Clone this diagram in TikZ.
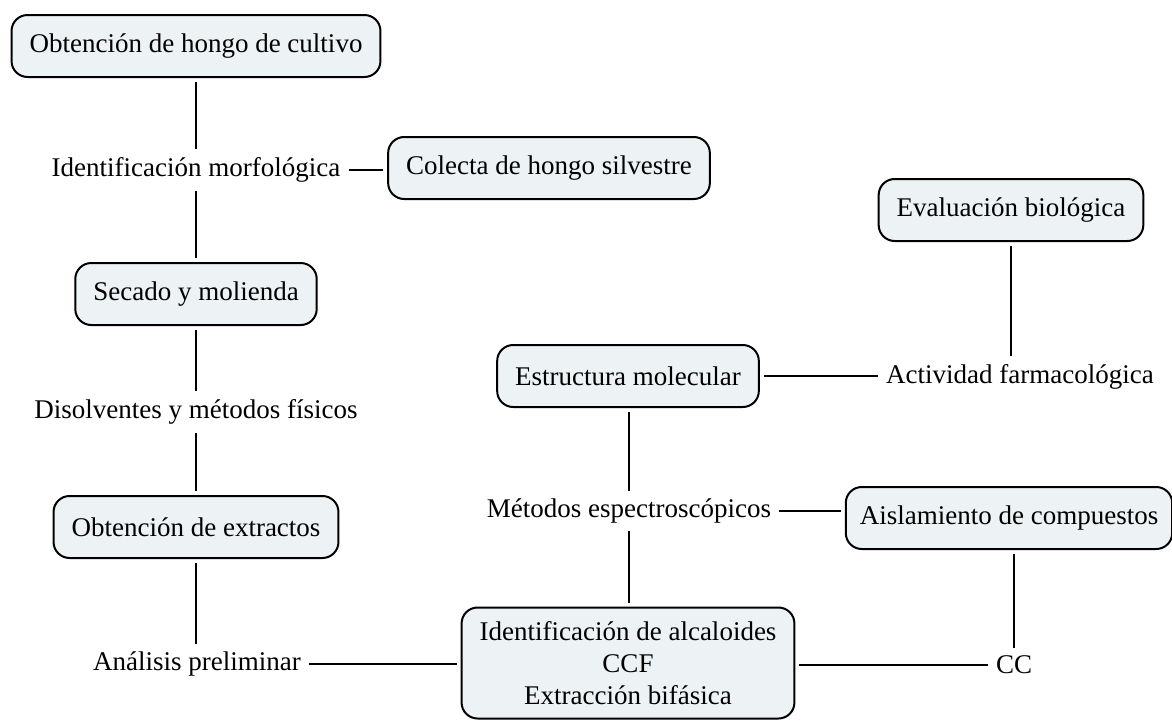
\documentclass[tikz,border=0pt]{standalone}
\usepackage{fontspec}
\setmainfont{Liberation Serif}

\begin{document}
\begin{tikzpicture}[
    x=1pt, y=-1pt,
    font=\fontsize{27}{32}\selectfont,
    conceptbox/.style={draw, line width=2pt, rounded corners=16pt,
        fill=boxfill, inner xsep=18pt, minimum height=62pt, align=center},
    linktext/.style={inner sep=4pt},
    link/.style={line width=2pt, shorten <=4pt, shorten >=4pt}
]
\definecolor{boxfill}{HTML}{EDF2F4}
\useasboundingbox (0,0) rectangle (1172,721);

% --- Left column ---
\node[conceptbox] (cultivo) at (196,46) {Obtención de hongo de cultivo};
\node[linktext] (morfo) at (196,170) {Identificación morfológica};
\node[conceptbox] (colecta) at (549,168) {Colecta de hongo silvestre};
\node[conceptbox] (secado) at (196,294) {Secado y molienda};
\node[linktext] (disolv) at (196,412) {Disolventes y métodos físicos};
\node[conceptbox] (extractos) at (196,527) {Obtención de extractos};
\node[linktext] (analisis) at (197,664) {Análisis preliminar};

% --- Right part ---
\node[conceptbox, minimum height=111pt] (alcaloides) at (628,663)
    {Identificación de alcaloides\\CCF\\Extracción bifásica};
\node[linktext] (metodos) at (629,511) {Métodos espectroscópicos};
\node[conceptbox] (estructura) at (628,376) {Estructura molecular};
\node[conceptbox, inner xsep=14pt] (aislamiento) at (1009,518) {Aislamiento de compuestos};
\node[linktext] (cc) at (1014,665) {CC};
\node[linktext] (actividad) at (1020,377) {Actividad farmacológica};
\node[conceptbox] (evaluacion) at (1011,210) {Evaluación biológica};

% --- Connectors ---
\draw[link] (cultivo) -- (morfo);
\draw[link] (morfo) -- (morfo -| colecta.west);
\draw[link] (morfo) -- (secado);
\draw[link] (secado) -- (disolv);
\draw[link] (disolv) -- (extractos);
\draw[link] (extractos) -- (analisis.north -| extractos);
\draw[link] (analisis) -- (analisis -| alcaloides.west);
\draw[link] (alcaloides.north -| metodos) -- (metodos);
\draw[link] (metodos) -- (estructura.south -| metodos);
\draw[link] (metodos) -- (metodos -| aislamiento.west);
\draw[link] (aislamiento.south -| cc) -- (cc);
\draw[link] (alcaloides.east |- cc) -- (cc);
\draw[link] (estructura) -- (estructura -| actividad.west);
\draw[link] (actividad.north -| evaluacion) -- (evaluacion);

\end{tikzpicture}
\end{document}
